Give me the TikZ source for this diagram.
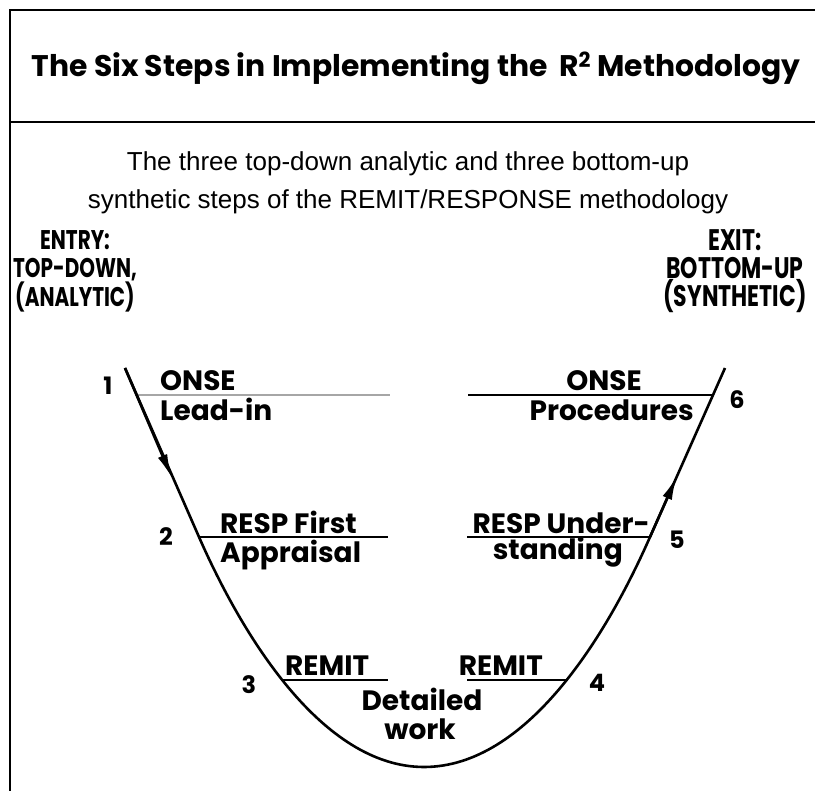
\documentclass[tikz,border=0pt]{standalone}
\usepackage{fontspec}
\usepackage{graphicx}
\setmainfont{Poppins}
\newfontfamily\subfont{Liberation Sans}
\usetikzlibrary{arrows.meta}

% condensed, tall capitals for the entry and exit heads
\newcommand{\tallcaps}[1]{\scalebox{1}[1.35]{#1}}

\begin{document}
\begin{tikzpicture}[
      x=1pt, y=-1pt,
      >={Latex[length=24pt,width=10pt]},
      frame/.style={line width=2.5pt},
      vee/.style={line width=2.6pt},
      level/.style={line width=1.6pt},
      title/.style={inner sep=0pt, font=\fontsize{29.8}{34}\selectfont\bfseries},
      sub/.style={inner sep=0pt, align=center, font=\subfont\fontsize{26}{38}\selectfont},
      head/.style={inner sep=0pt, align=center, font=\fontsize{20}{28}\selectfont\bfseries},
      lbl/.style={inner sep=0pt, font=\fontsize{28}{30}\selectfont\bfseries},
      num/.style={inner sep=0pt, font=\fontsize{24}{28}\selectfont\bfseries}
    ]

    \useasboundingbox (0,0) rectangle (815,791);

    % frame
    \coordinate (tl) at (10,10);
    \coordinate (tr) at (815,10);
    \coordinate (ml) at (10,122);
    \coordinate (mr) at (815,122);
    \coordinate (bl) at (10,791);
    \draw[frame] (tr) -- (tl) -- (bl);
    \draw[frame] (ml) -- (mr);

    \node[title] (title) at (416,68) {The Six Steps in Implementing the \,R\textsuperscript{2} Methodology};
    \node[sub] (sub) at (408,183) {The three top-down analytic and three bottom-up\\synthetic steps of the REMIT/RESPONSE methodology};

    \node[head] (entry) at (75,271) {\tallcaps{ENTRY:}\\\tallcaps{TOP-DOWN,}\\\tallcaps{(ANALYTIC)}};
    \node[head, font=\fontsize{22}{28}\selectfont\bfseries] (exit) at (735,271) {\tallcaps{EXIT:}\\\tallcaps{BOTTOM-UP}\\\tallcaps{(SYNTHETIC)}};

    % points on the curve
    \coordinate (top1) at (125,368);
    \coordinate (c1) at (137,395);
    \coordinate (arrL) at (172,478);
    \coordinate (c2) at (199,537);
    \coordinate (c3) at (282,680);
    \coordinate (bot) at (424,767);
    \coordinate (c4) at (566,680);
    \coordinate (c5) at (650,537);
    \coordinate (arrR) at (677,476);
    \coordinate (c6) at (713,395);
    \coordinate (top6) at (725,368);

    % free ends of the step lines
    \coordinate (e1) at (390,395);
    \coordinate (e2) at (388,537);
    \coordinate (e3) at (388,680);
    \coordinate (e4) at (467,680);
    \coordinate (e5) at (467,537);
    \coordinate (e6) at (468,395);

    \draw[level, gray!70] (c1) -- (e1);
    \draw[level] (c2) -- (e2);
    \draw[level] (c3) -- (e3);
    \draw[level] (e4) -- (c4);
    \draw[level] (e5) -- (c5);
    \draw[level] (e6) -- (c6);

    \draw[vee] (top1) -- (c2) .. controls (242,635) and (322,767) .. (bot) .. controls (527,767) and (607,635) .. (c5) -- (top6);
    % direction marks
    \draw[vee, ->] (top1) -- (arrL);
    \draw[vee, ->] (c5) -- (arrR);

    \node[lbl, anchor=base west] (onseL) at (160,391) {ONSE};
    \node[lbl, anchor=base west] (leadin) at (160,421) {Lead-in};
    \node[lbl, anchor=base west] (respL) at (220,534) {RESP First};
    \node[lbl, anchor=base west] (apprais) at (220,563) {Appraisal};
    \node[lbl, anchor=base west] (remitL) at (285,676) {REMIT};
    \node[lbl, anchor=base] (detail) at (422,710) {Detailed};
    \node[lbl, anchor=base] (work) at (420,739) {work};
    \node[lbl, anchor=base east] (remitR) at (543,676) {REMIT};
    \node[lbl, anchor=base east] (respR) at (650,534) {RESP Under-};
    \node[lbl, anchor=base east] (stand) at (623,560) {standing};
    \node[lbl, anchor=base east] (onseR) at (642,391) {ONSE};
    \node[lbl, anchor=base east] (proc) at (694,421) {Procedures};

    \node[num] (n1) at (108,386) {1};
    \node[num] (n2) at (166,537) {2};
    \node[num] (n3) at (249,685) {3};
    \node[num] (n4) at (597,683) {4};
    \node[num] (n5) at (677,540) {5};
    \node[num] (n6) at (737,400) {6};

  \end{tikzpicture}
\end{document}
